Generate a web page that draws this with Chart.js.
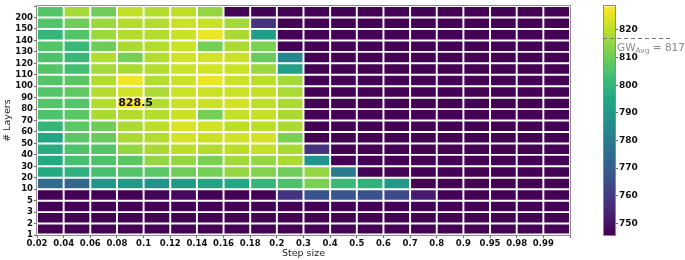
<!DOCTYPE html>
<html>
<head>
<meta charset="utf-8">
<script src="https://cdn.jsdelivr.net/npm/chart.js@4.4.0/dist/chart.umd.min.js"></script>
<style>
  html, body { margin: 0; padding: 0; background: #fff; }
  #wrap { position: relative; width: 685px; height: 260px; }
  #heat { position: absolute; left: 0; top: 0; }
  #cbar { position: absolute; left: 590px; top: 0; }
</style>
</head>
<body>
<div id="wrap">
  <canvas id="heat" width="580" height="260"></canvas>
  <canvas id="cbar" width="95" height="260"></canvas>
</div>
<script>
// x categories (left edge of each cell) and y categories (bottom edge of each row)
const stepSizes = ['0.02','0.04','0.06','0.08','0.1','0.12','0.14','0.16','0.18','0.2',
                   '0.3','0.4','0.5','0.6','0.7','0.8','0.9','0.95','0.98','0.99'];
const layers = ['1','2','3','5','10','20','30','40','50','60','70','80','90','100','110','120','130','140','150','200'];

// one row of values per layer count, columns follow stepSizes
const L1   = [746,746,746,746,746,746,746,746,746,746,746,746,746,746,746,746,746,746,746,746];
const L2   = [746,746,746,746,746,746,746,746,746,746,746,746,746,746,746,746,746,746,746,746];
const L3   = [746,746,746,746,746,746,746,746,746,746,746,746,746,746,746,746,746,746,746,746];
const L5   = [746,746,746,746,747,748,746,746,746,758,767,768,767,764,752,746,746,746,746,746];
const L10  = [775,773,789,790,788,790,794,795,800,805,812,801,799,790,746,746,746,746,746,746];
const L20  = [796,798,804,806,807,810,811,815,813,810,815,780,746,746,746,746,746,746,746,746];
const L30  = [796,804,805,807,815,815,812,817,815,818,788,746,746,746,746,746,746,746,746,746];
const L40  = [797,805,806,815,818,820,819,820,821,818,758,746,746,746,746,746,746,746,746,746];
const L50  = [795,807,809,818,819,823,822,823,823,812,746,746,746,746,746,746,746,746,746,746];
const L60  = [800,807,810,818,820,824,823,820,820,818,746,746,746,746,746,746,746,746,746,746];
const L70  = [805,807,818,819,819,822,811,821,821,818,746,746,746,746,746,746,746,746,746,746];
const L80  = [806,806,819,828.5,819,822,822,823,820,818,746,746,746,746,746,746,746,746,746,746];
const L90  = [806,808,819,823,818,822,822,822,821,818,746,746,746,746,746,746,746,746,746,746];
const L100 = [806,807,819,827,819,822,826,822,820,817,746,746,746,746,746,746,746,746,746,746];
const L110 = [806,803,817,818,819,822,823,822,816,793,746,746,746,746,746,746,746,746,746,746];
const L120 = [805,801,819,811,819,823,823,822,809,784,746,746,746,746,746,746,746,746,746,746];
const L130 = [806,801,810,818,819,822,811,818,812,746,746,746,746,746,746,746,746,746,746,746];
const L140 = [800,806,816,819,819,822,826,818,792,746,746,746,746,746,746,746,746,746,746,746];
const L150 = [806,810,816,819,819,822,822,817,758,746,746,746,746,746,746,746,746,746,746,746];
const L200 = [806,817,810,821,819,820,815,746,746,746,746,746,746,746,746,746,746,746,746,746];

const rowsByLayer = [L1, L2, L3, L5, L10, L20, L30, L40, L50, L60, L70, L80, L90, L100, L110, L120, L130, L140, L150, L200];

// colour bar range and ticks
const cbMin = 745.8;
const cbMax = 828.5;
const cbTicks = [750, 760, 770, 780, 790, 800, 810, 820];
const gwAvg = 817;

const FONT = "'DejaVu Sans', sans-serif";

const viridisStops = [
  [68,1,84],[72,36,117],[65,68,135],[53,95,141],[42,120,142],[33,145,140],
  [34,168,132],[68,191,112],[122,209,81],[189,223,38],[253,231,37]
];
function viridis(t) {
  t = Math.max(0, Math.min(1, t));
  const p = t * 10;
  const i = Math.min(9, Math.floor(p));
  const f = p - i;
  const a = viridisStops[i], b = viridisStops[i + 1];
  const c = a.map((v, k) => Math.round(v + (b[k] - v) * f));
  return `rgb(${c[0]},${c[1]},${c[2]})`;
}
const colorFor = (v) => viridis((v - cbMin) / (cbMax - cbMin));

const datasets = rowsByLayer.map((vals, r) => ({
  label: layers[r],
  data: vals.map((v, c) => ({ x: c + 0.5, y: [r, r + 1], v })),
  backgroundColor: vals.map(colorFor),
  borderColor: '#ffffff',
  borderWidth: 1.3,
  borderSkipped: false,
  barPercentage: 1,
  categoryPercentage: 1,
  grouped: false
}));

// frame around the plot area
const framePlugin = {
  id: 'frame',
  afterDraw(chart) {
    const { ctx, chartArea: a } = chart;
    ctx.save();
    ctx.strokeStyle = '#8c8c8c';
    ctx.lineWidth = 1;
    ctx.strokeRect(Math.round(a.left) - 0.5, Math.round(a.top) - 0.5, Math.round(a.width) + 1, Math.round(a.height) + 1);
    ctx.restore();
  }
};

// label on the best cell
const bestPlugin = {
  id: 'best',
  afterDatasetsDraw(chart) {
    let best = -Infinity, br = 0, bc = 0;
    rowsByLayer.forEach((vals, r) => vals.forEach((v, c) => {
      if (v > best) { best = v; br = r; bc = c; }
    }));
    const xs = chart.scales.x, ys = chart.scales.y;
    const cw = xs.getPixelForValue(1) - xs.getPixelForValue(0);
    const x = xs.getPixelForValue(bc + 0.5) + cw * 0.2;
    const y = ys.getPixelForValue(br + 0.5);
    const ctx = chart.ctx;
    ctx.save();
    ctx.font = `bold 11px ${FONT}`;
    ctx.fillStyle = '#111';
    ctx.textAlign = 'center';
    ctx.textBaseline = 'middle';
    ctx.fillText(best.toFixed(1), x, y);
    ctx.restore();
  }
};

new Chart(document.getElementById('heat'), {
  type: 'bar',
  data: { datasets },
  plugins: [framePlugin, bestPlugin],
  options: {
    responsive: false,
    animation: false,
    layout: { padding: { top: 2, right: 10, left: 0, bottom: 0 } },
    plugins: { legend: { display: false }, tooltip: { enabled: false } },
    scales: {
      x: {
        type: 'linear',
        min: 0, max: 20,
        offset: false,
        grid: { drawOnChartArea: false, offset: false, tickLength: 3, color: '#666' },
        border: { display: false },
        ticks: {
          stepSize: 1, autoSkip: false, maxRotation: 0, padding: 1,
          color: '#111', font: { family: FONT, size: 8.5, weight: 'bold' },
          callback: (v) => stepSizes[v] ?? ''
        },
        title: { display: true, text: 'Step size', color: '#222', font: { family: FONT, size: 9.5 }, padding: { top: 0, bottom: 1 } },
        afterFit: (s) => { s.height = 25; }
      },
      y: {
        type: 'linear',
        min: 0, max: 20,
        grid: { drawOnChartArea: false, tickLength: 3, color: '#666' },
        border: { display: false },
        ticks: {
          stepSize: 1, autoSkip: false, padding: 1,
          color: '#111', font: { family: FONT, size: 8.5, weight: 'bold' },
          callback: (v) => layers[v] ?? ''
        },
        title: { display: true, text: '# Layers', color: '#222', font: { family: FONT, size: 9.5 }, padding: { top: 2, bottom: 1 } },
        afterFit: (s) => { s.width = 37; }
      }
    }
  }
});

// colour bar with the average marker
const avgPlugin = {
  id: 'avg',
  afterDraw(chart) {
    const { ctx, chartArea: a } = chart;
    const y = Math.round(chart.scales.y.getPixelForValue(gwAvg)) + 0.5;
    ctx.save();
    ctx.strokeStyle = '#8c8c8c';
    ctx.lineWidth = 1;
    ctx.strokeRect(Math.round(a.left) - 0.5, Math.round(a.top) - 0.5, Math.round(a.width) + 1, Math.round(a.height) + 1);
    ctx.strokeStyle = '#777';
    ctx.setLineDash([4, 3]);
    ctx.beginPath();
    ctx.moveTo(a.left - 1, y);
    ctx.lineTo(a.left + 68, y);
    ctx.stroke();
    ctx.setLineDash([]);
    ctx.fillStyle = '#8a8a8a';
    ctx.textBaseline = 'alphabetic';
    let x = a.right + 2;
    const base = y + 12;
    ctx.font = `10.5px ${FONT}`;
    ctx.fillText('GW', x, base);
    x += ctx.measureText('GW').width;
    ctx.font = `7.5px ${FONT}`;
    ctx.fillText('Avg', x, base + 2);
    x += ctx.measureText('Avg').width;
    ctx.font = `10.5px ${FONT}`;
    ctx.fillText(' = ' + gwAvg, x, base);
    ctx.restore();
  }
};

new Chart(document.getElementById('cbar'), {
  type: 'bar',
  data: {
    labels: [''],
    datasets: [{
      data: [[cbMin, cbMax]],
      barPercentage: 1,
      categoryPercentage: 1,
      borderWidth: 0,
      backgroundColor: (c) => {
        const { chart } = c;
        const a = chart.chartArea;
        if (!a) return '#440154';
        const g = chart.ctx.createLinearGradient(0, a.bottom, 0, a.top);
        viridisStops.forEach((s, i) => g.addColorStop(i / 10, `rgb(${s[0]},${s[1]},${s[2]})`));
        return g;
      }
    }]
  },
  plugins: [avgPlugin],
  options: {
    responsive: false,
    animation: false,
    layout: { padding: { top: 1, left: 14, right: 0, bottom: 25 } },
    plugins: { legend: { display: false }, tooltip: { enabled: false } },
    scales: {
      x: { display: false },
      y: {
        position: 'right',
        min: cbMin, max: cbMax,
        grid: { drawOnChartArea: false, tickLength: 3, color: '#666' },
        border: { display: false },
        ticks: { padding: 1, color: '#111', font: { family: FONT, size: 9, weight: 'bold' } },
        afterBuildTicks: (s) => { s.ticks = cbTicks.map(v => ({ value: v })); },
        afterFit: (s) => { s.width = 70; }
      }
    }
  }
});
</script>
</body>
</html>
